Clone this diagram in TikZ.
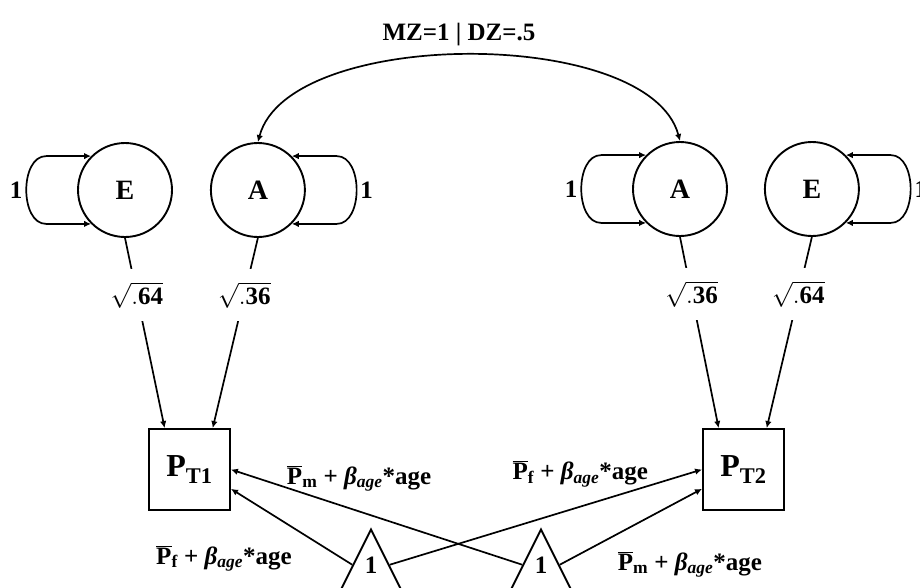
\documentclass[tikz,border=0pt]{standalone}
\usepackage{fontspec}
\setmainfont{Liberation Serif}
\usetikzlibrary{arrows.meta, positioning, calc, shapes.geometric}
\newcommand{\meanlbl}[1]{$\overline{\mbox{P}}$\textsubscript{#1} + {\itshape β}\textsubscript{\itshape age}*age}

\begin{document}
\begin{tikzpicture}[
    x=1pt, y=1pt,
    font=\fontsize{25}{30}\selectfont\bfseries,
    latent/.style={
        circle,
        draw,
        line width=1.9pt,
        minimum size=94pt,
        inner sep=0pt,
        font=\fontsize{28}{32}\selectfont\bfseries
    },
    manifest/.style={
        rectangle,
        draw,
        line width=1.9pt,
        minimum size=81pt,
        inner sep=0pt,
        font=\fontsize{32}{36}\selectfont\bfseries
    },
    meanbox/.style={
        isosceles triangle,
        isosceles triangle stretches,
        shape border rotate=90,
        draw,
        line width=1.9pt,
        minimum width=72pt,
        minimum height=72pt,
        inner sep=0pt,
        text depth=22pt
    },
    arrow/.style={
        -{Latex[length=7pt, width=6.5pt]},
        line width=1.7pt
    },
    twoway/.style={
        {Latex[length=7pt, width=6.5pt]}-{Latex[length=7pt, width=6.5pt]},
        line width=1.7pt
    },
    loading/.style={
        fill=white,
        inner sep=0pt,
        minimum height=52pt
    },
    pathlabel/.style={
        inner sep=3pt
    }
]
\useasboundingbox (0,0) rectangle (920,-587);

% Twin 1 and twin 2 latent factors
\node[latent] (E1) at (125,-190) {E};
\node[latent, right=37pt of E1] (A1) {A};
\node[latent] (A2) at (680,-189) {A};
\node[latent, right=36pt of A2] (E2) {E};

% Observed phenotypes
\node[manifest] (PT1) at (189.5,-469.5) {P\textsubscript{T1}};
\node[manifest] (PT2) at (743.5,-469.5) {P\textsubscript{T2}};

% Means
\node[meanbox, anchor=apex] (T1) at (371,-527) {1};
\node[meanbox, anchor=apex] (T2) at (541,-527) {1};

% Variances
\draw[twoway] (E1.135) -- ++(-45,0) to[out=180, in=180] node[pathlabel, left] {1} ($(E1.225)+(-45,0)$) -- (E1.225);
\draw[twoway] (A1.45) -- ++(45,0) to[out=0, in=0] node[pathlabel, right] {1} ($(A1.-45)+(45,0)$) -- (A1.-45);
\draw[twoway] (A2.135) -- ++(-45,0) to[out=180, in=180] node[pathlabel, left] {1} ($(A2.225)+(-45,0)$) -- (A2.225);
\draw[twoway] (E2.45) -- ++(45,0) to[out=0, in=0] node[pathlabel, right] {1} ($(E2.-45)+(45,0)$) -- (E2.-45);

% Genetic correlation
\draw[twoway] (A1.north) to[out=75, in=105, looseness=0.72]
    node[pathlabel, midway, above=6pt, xshift=-10pt] {MZ=1 | DZ=.5} (A2.north);

% Loadings
\draw[arrow] (E1.south) -- node[loading, pos=0.3] {$\sqrt{\mathbf{.64}}$} ($(PT1.north west)!0.2!(PT1.north east)$);
\draw[arrow] (A1.south) -- node[loading, pos=0.3] {$\sqrt{\mathbf{.36}}$} ($(PT1.north west)!0.78!(PT1.north east)$);
\draw[arrow] (A2.south) -- node[loading, pos=0.3] {$\sqrt{\mathbf{.36}}$} ($(PT2.north west)!0.2!(PT2.north east)$);
\draw[arrow] (E2.south) -- node[loading, pos=0.3] {$\sqrt{\mathbf{.64}}$} ($(PT2.north west)!0.78!(PT2.north east)$);

% Mean paths
\draw[arrow] (T1.left side) -- node[pathlabel, midway, below left=15pt and -4pt] {\meanlbl{f}} (PT1.-25);
\draw[arrow] (T1.right side) -- node[pathlabel, pos=0.61, above=16pt] {\meanlbl{f}} (PT2.west);
\draw[arrow] (T2.left side) -- node[pathlabel, pos=0.56, above=16pt] {\meanlbl{m}} (PT1.east);
\draw[arrow] (T2.right side) -- node[pathlabel, midway, below right=21pt and -17pt] {\meanlbl{m}} (PT2.205);

\end{tikzpicture}
\end{document}
